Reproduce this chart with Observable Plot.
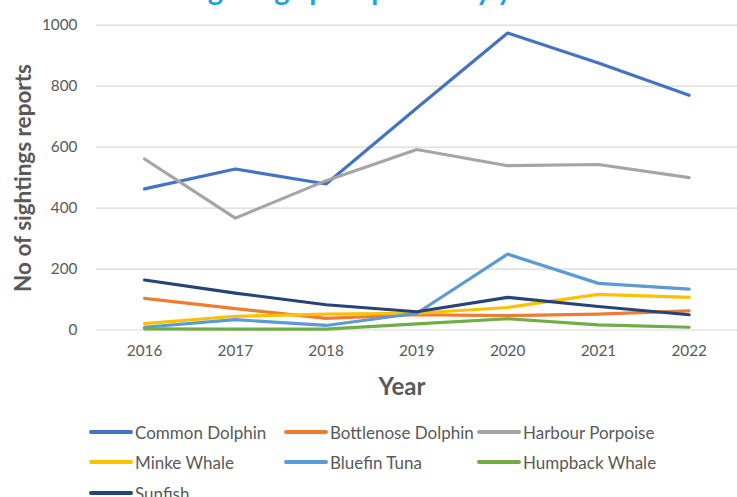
<!DOCTYPE html>
<html>
<head>
<meta charset="utf-8">
<script src="https://cdn.jsdelivr.net/npm/d3@7"></script>
<script src="https://cdn.jsdelivr.net/npm/@observablehq/plot@0.6"></script>
<style>
  html, body { margin: 0; padding: 0; background: #fff; overflow: hidden; }
  #wrap { position: relative; width: 737px; height: 497px; overflow: hidden; font-family: Lato, "Open Sans", sans-serif; color: #595959; }
  #chart { position: absolute; left: 0; top: 0; }
  #chart svg text { fill: #595959; }
  .title { position: absolute; left: 0; width: 737px; top: -29px; text-align: center; font-size: 29px; line-height: 36px; font-weight: bold; color: #1BA1E2; white-space: nowrap; }
  .ylab { position: absolute; left: 22px; top: 178px; transform: translate(-50%, -50%) rotate(-90deg); font-size: 22.5px; font-weight: bold; white-space: nowrap; color: #595959; }
  .xlab { position: absolute; left: 402px; top: 385px; transform: translate(-50%, -50%); font-size: 24px; font-weight: bold; color: #595959; }
  .leg { position: absolute; height: 20px; display: flex; align-items: center; font-size: 17px; color: #595959; white-space: nowrap; transform: translateY(-50%); }
  .leg .sw { display: inline-block; width: 44px; height: 3.5px; border-radius: 2px; margin-right: 2px; }
</style>
</head>
<body>
<div id="wrap">
  <div id="chart"></div>
</div>
<script>
const years = ["2016", "2017", "2018", "2019", "2020", "2021", "2022"];
const species = ["Common Dolphin", "Bottlenose Dolphin", "Harbour Porpoise", "Minke Whale", "Bluefin Tuna", "Humpback Whale", "Sunfish"];
const colors = ["#4472C4", "#ED7D31", "#A5A5A5", "#FFC000", "#5B9BD5", "#70AD47", "#264478"];
const commonDolphin = [463, 528, 479, 728, 974, 876, 770];
const bottlenoseDolphin = [104, 70, 38, 50, 47, 52, 63];
const harbourPorpoise = [561, 367, 490, 592, 539, 543, 500];
const minkeWhale = [21, 45, 52, 55, 74, 117, 107];
const bluefinTuna = [9, 34, 15, 55, 249, 153, 134];
const humpbackWhale = [4, 3, 3, 20, 37, 17, 9];
const sunfish = [164, 121, 83, 60, 107, 77, 50];
const yTicks = [0, 200, 400, 600, 800, 1000];
const titleText = "Sightings per species by year";
const yTitle = "No of sightings reports";
const xTitle = "Year";

const seriesValues = [commonDolphin, bottlenoseDolphin, harbourPorpoise, minkeWhale, bluefinTuna, humpbackWhale, sunfish];
const rows = [];
species.forEach((s, i) => years.forEach((y, j) => rows.push({species: s, year: y, value: seriesValues[i][j]})));

const plot = Plot.plot({
  width: 747,
  height: 400,
  marginLeft: 97,
  marginRight: 0,
  marginTop: 25,
  marginBottom: 66,
  style: {fontFamily: "Lato, 'Open Sans', sans-serif", fontSize: "15px", color: "#595959", background: "transparent"},
  x: {type: "point", domain: years, padding: 0.5, label: null},
  y: {domain: [0, 1000], label: null},
  color: {domain: species, range: colors},
  marks: [
    Plot.ruleY(yTicks, {stroke: "#D9D9D9", strokeWidth: 1.2}),
    Plot.axisY({ticks: yTicks, tickFormat: d => String(d), tickSize: 0, tickPadding: 19, label: null, fontSize: 15.5}),
    Plot.axisX({tickSize: 0, tickPadding: 15, label: null, fontSize: 15.5}),
    Plot.line(rows, {x: "year", y: "value", z: "species", stroke: "species", strokeWidth: 3.2, strokeLinejoin: "round", strokeLinecap: "round"})
  ]
});
document.getElementById("chart").appendChild(plot);

const wrap = document.getElementById("wrap");
function addDiv(cls, text) {
  const d = document.createElement("div");
  d.className = cls;
  d.textContent = text;
  wrap.appendChild(d);
  return d;
}
addDiv("title", titleText);
addDiv("ylab", yTitle);
addDiv("xlab", xTitle);

const legendX = [89, 284, 477];
const legendY = [432, 462, 493];
species.forEach((s, i) => {
  const d = document.createElement("div");
  d.className = "leg";
  d.style.left = legendX[i % 3] + "px";
  d.style.top = legendY[Math.floor(i / 3)] + "px";
  const sw = document.createElement("span");
  sw.className = "sw";
  sw.style.background = colors[i];
  const t = document.createElement("span");
  t.textContent = s;
  d.appendChild(sw);
  d.appendChild(t);
  wrap.appendChild(d);
});
</script>
</body>
</html>
